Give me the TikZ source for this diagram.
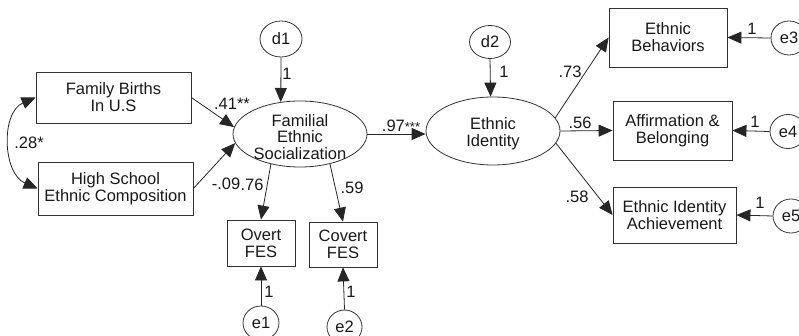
\documentclass[tikz,border=0pt]{standalone}
\usepackage{fontspec}
\setmainfont{Liberation Sans}
\usetikzlibrary{arrows.meta,shapes.geometric}
\begin{document}
\begin{tikzpicture}[x=1pt,y=-1pt,
  font=\fontsize{16.5}{16.8}\selectfont,
  obs/.style={draw=black!80, line width=0.8pt, rectangle, align=center, inner sep=0pt, text=black!90},
  lat/.style={draw=black!80, line width=0.8pt, ellipse, inner sep=0pt},
  err/.style={draw=black!80, line width=0.8pt, ellipse, inner sep=0pt, text=black!90},
  arr/.style={-{Triangle[length=14pt,width=12pt]}, line width=0.8pt, draw=black!85},
  dbl/.style={{Triangle[length=14pt,width=12pt]}-{Triangle[length=14pt,width=12pt]}, line width=0.8pt, draw=black!85},
  lbl/.style={inner sep=0pt, text=black!90}]
\useasboundingbox (0,0) rectangle (799,336);

% observed exogenous
\node[obs, minimum width=155, minimum height=51] (fb) at (113.5,97.5) {Family Births\\In U.S};
\node[obs, minimum width=155, minimum height=53] (hs) at (115.5,188.5) {High School\\Ethnic Composition};

% latent
\node[lat, minimum width=134, minimum height=66,
  label={[lbl, align=center, yshift=-3pt]center:Familial\\Ethnic\\Socialization}] (fes) at (300,134) {};
\node[lat, minimum width=134, minimum height=68,
  label={[lbl, align=center, yshift=-3pt]center:Ethnic\\Identity}] (ei) at (493,131) {};

% disturbances
\node[err, minimum width=42, minimum height=36] (d1) at (281,39) {d1};
\node[err, minimum width=41, minimum height=33] (d2) at (490,42) {d2};

% FES indicators
\node[obs, minimum width=68, minimum height=46] (overt) at (261,243) {Overt\\FES};
\node[obs, minimum width=68, minimum height=45] (covert) at (343,244.5) {Covert\\FES};
\node[err, minimum width=36, minimum height=34] (e1) at (261,323) {e1};
\node[err, minimum width=35, minimum height=34] (e2) at (344.5,327) {e2};

% EI indicators
\node[obs, minimum width=118, minimum height=59] (eb) at (668,37.5) {Ethnic\\Behaviors};
\node[obs, minimum width=119, minimum height=59] (aff) at (672.5,130.5) {Affirmation \&\\Belonging};
\node[obs, minimum width=123, minimum height=56] (eia) at (674.5,215) {Ethnic Identity\\Achievement};
\node[err, minimum width=36, minimum height=34] (e3) at (789,38) {e3};
\node[err, minimum width=36, minimum height=34] (e4) at (788,131.5) {e4};
\node[err, minimum width=36, minimum height=34] (e5) at (791,216) {e5};

% connectors
\draw[dbl] (fb.west) .. controls +(-35,15) and +(-35,-15) .. (hs.west);
\draw[arr] (fb.east) -- (fes.174);
\draw[arr] (hs.east) -- (fes.188);
\draw[arr] (d1.south) -- (fes.121);
\draw[arr] (fes.226) -- (overt.north);
\draw[arr] (fes.315) -- (covert.north);
\draw[arr] (e1.north) -- (overt.south);
\draw[arr] (e2.north) -- (covert.south);
\draw[arr] (fes.east) -- (ei.west |- fes.east);
\draw[arr] (d2.south) -- (ei.94);
\draw[arr] (ei.12) -- (eb.west);
\draw[arr] (ei.east) -- (aff.west);
\draw[arr] (ei.349) -- (eia.west);
\draw[arr] (e3.west) -- (eb.east);
\draw[arr] (e4.west) -- (aff.east);
\draw[arr] (e5.west) -- (eia.east);

% labels
\node[lbl] (l28) at (29,143) {.28*};
\node[lbl] (l41) at (232,104) {.41**};
\node[lbl] (l09) at (226,184) {-.09};
\node[lbl] (l76) at (252,185) {.76};
\node[lbl] (l59) at (352,188) {.59};
\node[lbl] (l97) at (401,126) {.97{\fontsize{13}{13}\selectfont***}};
\node[lbl] (ld1) at (287,74) {1};
\node[lbl] (ld2) at (504,72) {1};
\node[lbl] (l73) at (570,72) {.73};
\node[lbl] (l56) at (580,123) {.56};
\node[lbl] (l58) at (577,197) {.58};
\node[lbl] (le3) at (752,29) {1};
\node[lbl] (le4) at (755,122) {1};
\node[lbl] (le5) at (760,203) {1};
\node[lbl] (le1) at (269,292) {1};
\node[lbl] (le2) at (351,292) {1};
\end{tikzpicture}
\end{document}
